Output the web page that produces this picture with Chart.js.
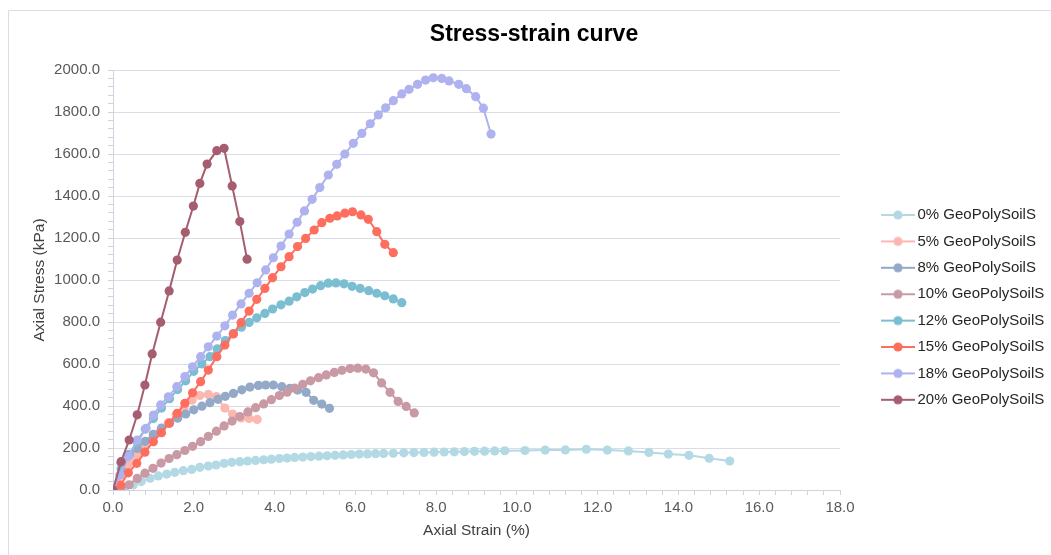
<!DOCTYPE html>
<html>
<head>
<meta charset="utf-8">
<script src="https://cdn.jsdelivr.net/npm/chart.js@4.4.1/dist/chart.umd.min.js"></script>
<style>
html,body{margin:0;padding:0;background:#ffffff;}
#wrap{position:relative;width:1051px;height:555px;}
</style>
</head>
<body>
<div id="wrap"><canvas id="c" width="1051" height="555"></canvas></div>
<script>
// ---------- DATA ----------
const seriesNames = ["0% GeoPolySoilS","5% GeoPolySoilS","8% GeoPolySoilS","10% GeoPolySoilS","12% GeoPolySoilS","15% GeoPolySoilS","18% GeoPolySoilS","20% GeoPolySoilS"];

const strain0 = [0.3,0.5,0.7,0.92,1.12,1.33,1.53,1.74,1.95,2.15,2.36,2.55,2.75,2.94,3.14,3.33,3.53,3.73,3.92,4.12,4.31,4.5,4.7,4.9,5.1,5.3,5.5,5.7,5.9,6.1,6.3,6.5,6.7,6.94,7.2,7.45,7.7,7.95,8.2,8.45,8.7,8.95,9.2,9.45,9.7,10.2,10.7,11.2,11.72,12.24,12.76,13.27,13.75,14.26,14.76,15.27];
const stress0 = [13,24,40,56,67,76,84,92,98,108,114,119,127,132,135,138,141,144,147,150,152,155,157,159,161,163,165,167,169,171,172,173,174,175,177,178,179,180,181,182,183,184,185,186,187,188,190,191,194,190,186,179,171,165,151,138];

const strain5 = [0,0.21,0.38,0.59,0.79,0.98,1.17,1.37,1.56,1.76,1.96,2.15,2.36,2.56,2.77,2.96,3.17,3.37,3.57];
const stress5 = [0,70,120,167,206,246,280,320,357,390,428,450,455,445,390,362,343,341,336];

const strain8 = [0,0.2,0.4,0.6,0.8,1.0,1.2,1.4,1.6,1.8,2.0,2.2,2.4,2.6,2.78,2.98,3.19,3.39,3.6,3.78,3.97,4.18,4.38,4.57,4.78,4.97,5.17,5.36];
const stress8 = [0,127,168,198,232,265,295,318,342,362,382,399,416,432,446,460,477,490,498,500,500,492,484,476,465,427,409,389];

const strain10 = [0.2,0.4,0.6,0.79,0.99,1.19,1.39,1.58,1.78,1.97,2.17,2.36,2.56,2.75,2.95,3.14,3.34,3.53,3.73,3.92,4.12,4.31,4.5,4.7,4.89,5.09,5.28,5.48,5.67,5.87,6.06,6.26,6.45,6.65,6.86,7.06,7.26,7.46];
const stress10 = [0,25,55,80,103,128,150,168,188,208,230,255,280,305,328,350,372,392,410,430,450,466,485,503,520,535,548,560,570,578,580,576,558,510,465,422,398,367];

const strain12 = [0,0.2,0.4,0.6,0.8,1.0,1.2,1.4,1.6,1.8,2.0,2.2,2.4,2.58,2.78,2.98,3.18,3.37,3.56,3.76,3.95,4.16,4.36,4.55,4.75,4.94,5.14,5.33,5.52,5.72,5.92,6.12,6.33,6.53,6.73,6.94,7.15];
const stress12 = [0,100,170,228,290,340,390,435,478,520,565,600,635,672,712,745,775,798,820,841,862,882,899,920,940,957,973,985,986,982,970,960,949,937,925,910,892];

const strain15 = [0,0.19,0.38,0.59,0.79,1.0,1.2,1.39,1.59,1.78,1.97,2.17,2.36,2.57,2.77,2.98,3.17,3.37,3.56,3.76,3.95,4.16,4.36,4.57,4.77,4.98,5.17,5.37,5.55,5.74,5.93,6.14,6.32,6.53,6.73,6.94];
const stress15 = [0,24,82,127,180,230,273,318,365,413,463,516,571,635,690,743,797,852,908,960,1011,1063,1111,1159,1198,1238,1273,1294,1305,1318,1325,1310,1289,1230,1170,1130];

const strain18 = [0,0.17,0.38,0.6,0.82,1.0,1.18,1.37,1.58,1.78,1.97,2.17,2.36,2.57,2.77,2.96,3.17,3.37,3.57,3.78,3.97,4.16,4.36,4.56,4.74,4.93,5.12,5.33,5.54,5.74,5.95,6.16,6.37,6.57,6.75,6.94,7.15,7.33,7.54,7.74,7.93,8.14,8.32,8.56,8.75,8.98,9.17,9.36];
const stress18 = [0,71,159,238,294,357,405,444,492,540,587,635,682,733,782,833,886,937,987,1048,1106,1162,1219,1275,1329,1384,1440,1500,1551,1600,1651,1698,1744,1786,1820,1854,1886,1908,1932,1952,1963,1960,1948,1932,1911,1873,1818,1695];

const strain20 = [0,0.2,0.4,0.6,0.79,0.97,1.18,1.39,1.59,1.79,1.99,2.15,2.33,2.57,2.75,2.95,3.14,3.32];
const stress20 = [0,135,238,358,500,648,799,948,1095,1227,1352,1460,1552,1616,1627,1448,1278,1099];

const xTickMajor = [0,2,4,6,8,10,12,14,16,18];
const yTickMajor = [0,200,400,600,800,1000,1200,1400,1600,1800,2000];

// ---------- STYLE ----------
const colors = ["#b3d9e4","#fbb8b1","#94a8c8","#c999a4","#7bbdd1","#fd6e5f","#aeb2ee","#a55d6f"];
const strains = [strain0,strain5,strain8,strain10,strain12,strain15,strain18,strain20];
const stresses = [stress0,stress5,stress8,stress10,stress12,stress15,stress18,stress20];
const FONT = "'Liberation Sans', Arial, Helvetica, sans-serif";
const GRID = "#dcdce6";
const AXIS = "#d2d2de";
const FRAME = "#dcdce8";

function makeMarker(color){
  const c = document.createElement('canvas');
  c.width = 34; c.height = 12;
  const g = c.getContext('2d');
  g.strokeStyle = color; g.lineWidth = 2;
  g.beginPath(); g.moveTo(0,6); g.lineTo(34,6); g.stroke();
  g.fillStyle = color;
  g.beginPath(); g.arc(17,6,4.6,0,Math.PI*2); g.fill();
  return c;
}
const markers = colors.map(makeMarker);

const datasets = seriesNames.map((name,i)=>({
  label: name,
  data: strains[i].map((x,k)=>({x:x, y:stresses[i][k]})),
  borderColor: colors[i],
  backgroundColor: colors[i],
  pointBackgroundColor: colors[i],
  pointBorderColor: colors[i],
  pointBorderWidth: 0,
  pointRadius: 4.6,
  pointHoverRadius: 4.6,
  borderWidth: 2,
  tension: 0,
  fill: false,
  order: seriesNames.length - i
}));

const adjust = {
  id: 'adjust',
  afterLayout(chart){
    const lg = chart.legend;
    if (lg && lg.columnSizes && lg.columnSizes.length){
      const pad = lg.options.labels.padding;
      const dx = 886 - pad - lg.left;
      lg.left += dx; lg.right += dx;
      const y0 = (lg.top + pad + lg.bottom - lg.columnSizes[0].height)/2;
      const dy = 215 - 7.5 - y0;
      lg.top += dy; lg.bottom += dy;
    }
    const t = chart.titleBlock;
    if (t){
      const w = t.right - t.left;
      t.left = 534 - w/2; t.right = 534 + w/2;
    }
  },
  beforeDraw(chart){
    const ctx = chart.ctx;
    ctx.save();
    ctx.strokeStyle = FRAME;
    ctx.lineWidth = 1;
    ctx.beginPath();
    ctx.moveTo(8.5, chart.height);
    ctx.lineTo(8.5, 10.5);
    ctx.lineTo(chart.width, 10.5);
    ctx.stroke();
    ctx.restore();
  }
};

new Chart(document.getElementById('c'), {
  type: 'line',
  data: { datasets },
  plugins: [adjust],
  options: {
    responsive: false,
    animation: false,
    layout: { padding: { left: 0, right: 41, top: 0, bottom: 0 } },
    plugins: {
      title: {
        display: true,
        text: 'Stress-strain curve',
        color: '#000000',
        font: { family: FONT, size: 23, weight: 'bold', lineHeight: 1.2 },
        padding: { top: 21.2, bottom: 21.2 }
      },
      legend: {
        display: true,
        position: 'right',
        align: 'center',
        maxWidth: 170,
        labels: {
          usePointStyle: true,
          pointStyleWidth: 24,
          boxHeight: 15,
          padding: 11.4,
          color: '#262626',
          font: { family: FONT, size: 15 },
          sort: (a,b) => a.datasetIndex - b.datasetIndex,
          generateLabels(chart){
            const items = Chart.defaults.plugins.legend.labels.generateLabels(chart);
            items.forEach(it => { it.pointStyle = markers[it.datasetIndex]; });
            return items;
          }
        }
      },
      tooltip: { enabled: false }
    },
    scales: {
      x: {
        type: 'linear',
        min: xTickMajor[0],
        max: xTickMajor[xTickMajor.length-1],
        afterFit(s){ s.height = 65; },
        ticks: {
          stepSize: 0.4,
          autoSkip: false,
          maxRotation: 0,
          padding: 4,
          color: '#595959',
          font: { family: FONT, size: 15 },
          callback: (v) => xTickMajor.some(m => Math.abs(m - v) < 1e-6) ? Number(v).toFixed(1) : ''
        },
        grid: { drawOnChartArea: false, drawTicks: true, tickLength: 5, tickColor: AXIS },
        border: { color: AXIS, width: 1 },
        title: {
          display: true,
          text: 'Axial Strain (%)',
          color: '#404040',
          font: { family: FONT, size: 15.5 },
          padding: { top: 0, bottom: 14.7 }
        }
      },
      y: {
        type: 'linear',
        min: yTickMajor[0],
        max: yTickMajor[yTickMajor.length-1],
        afterFit(s){ s.width = 113; },
        ticks: {
          stepSize: 40,
          autoSkip: false,
          padding: 8,
          color: '#595959',
          font: { family: FONT, size: 15 },
          callback: (v) => yTickMajor.some(m => Math.abs(m - v) < 1e-6) ? Number(v).toFixed(1) : ''
        },
        grid: {
          color: (ctx) => (ctx.tick && yTickMajor.some(m => Math.abs(m - ctx.tick.value) < 1e-6)) ? GRID : 'rgba(0,0,0,0)',
          tickColor: AXIS,
          tickLength: 5,
          lineWidth: 1
        },
        border: { color: AXIS, width: 1 },
        title: {
          display: true,
          text: 'Axial Stress (kPa)',
          color: '#404040',
          font: { family: FONT, size: 15.5 },
          padding: { top: 30.7, bottom: 0 }
        }
      }
    }
  }
});
</script>
</body>
</html>
